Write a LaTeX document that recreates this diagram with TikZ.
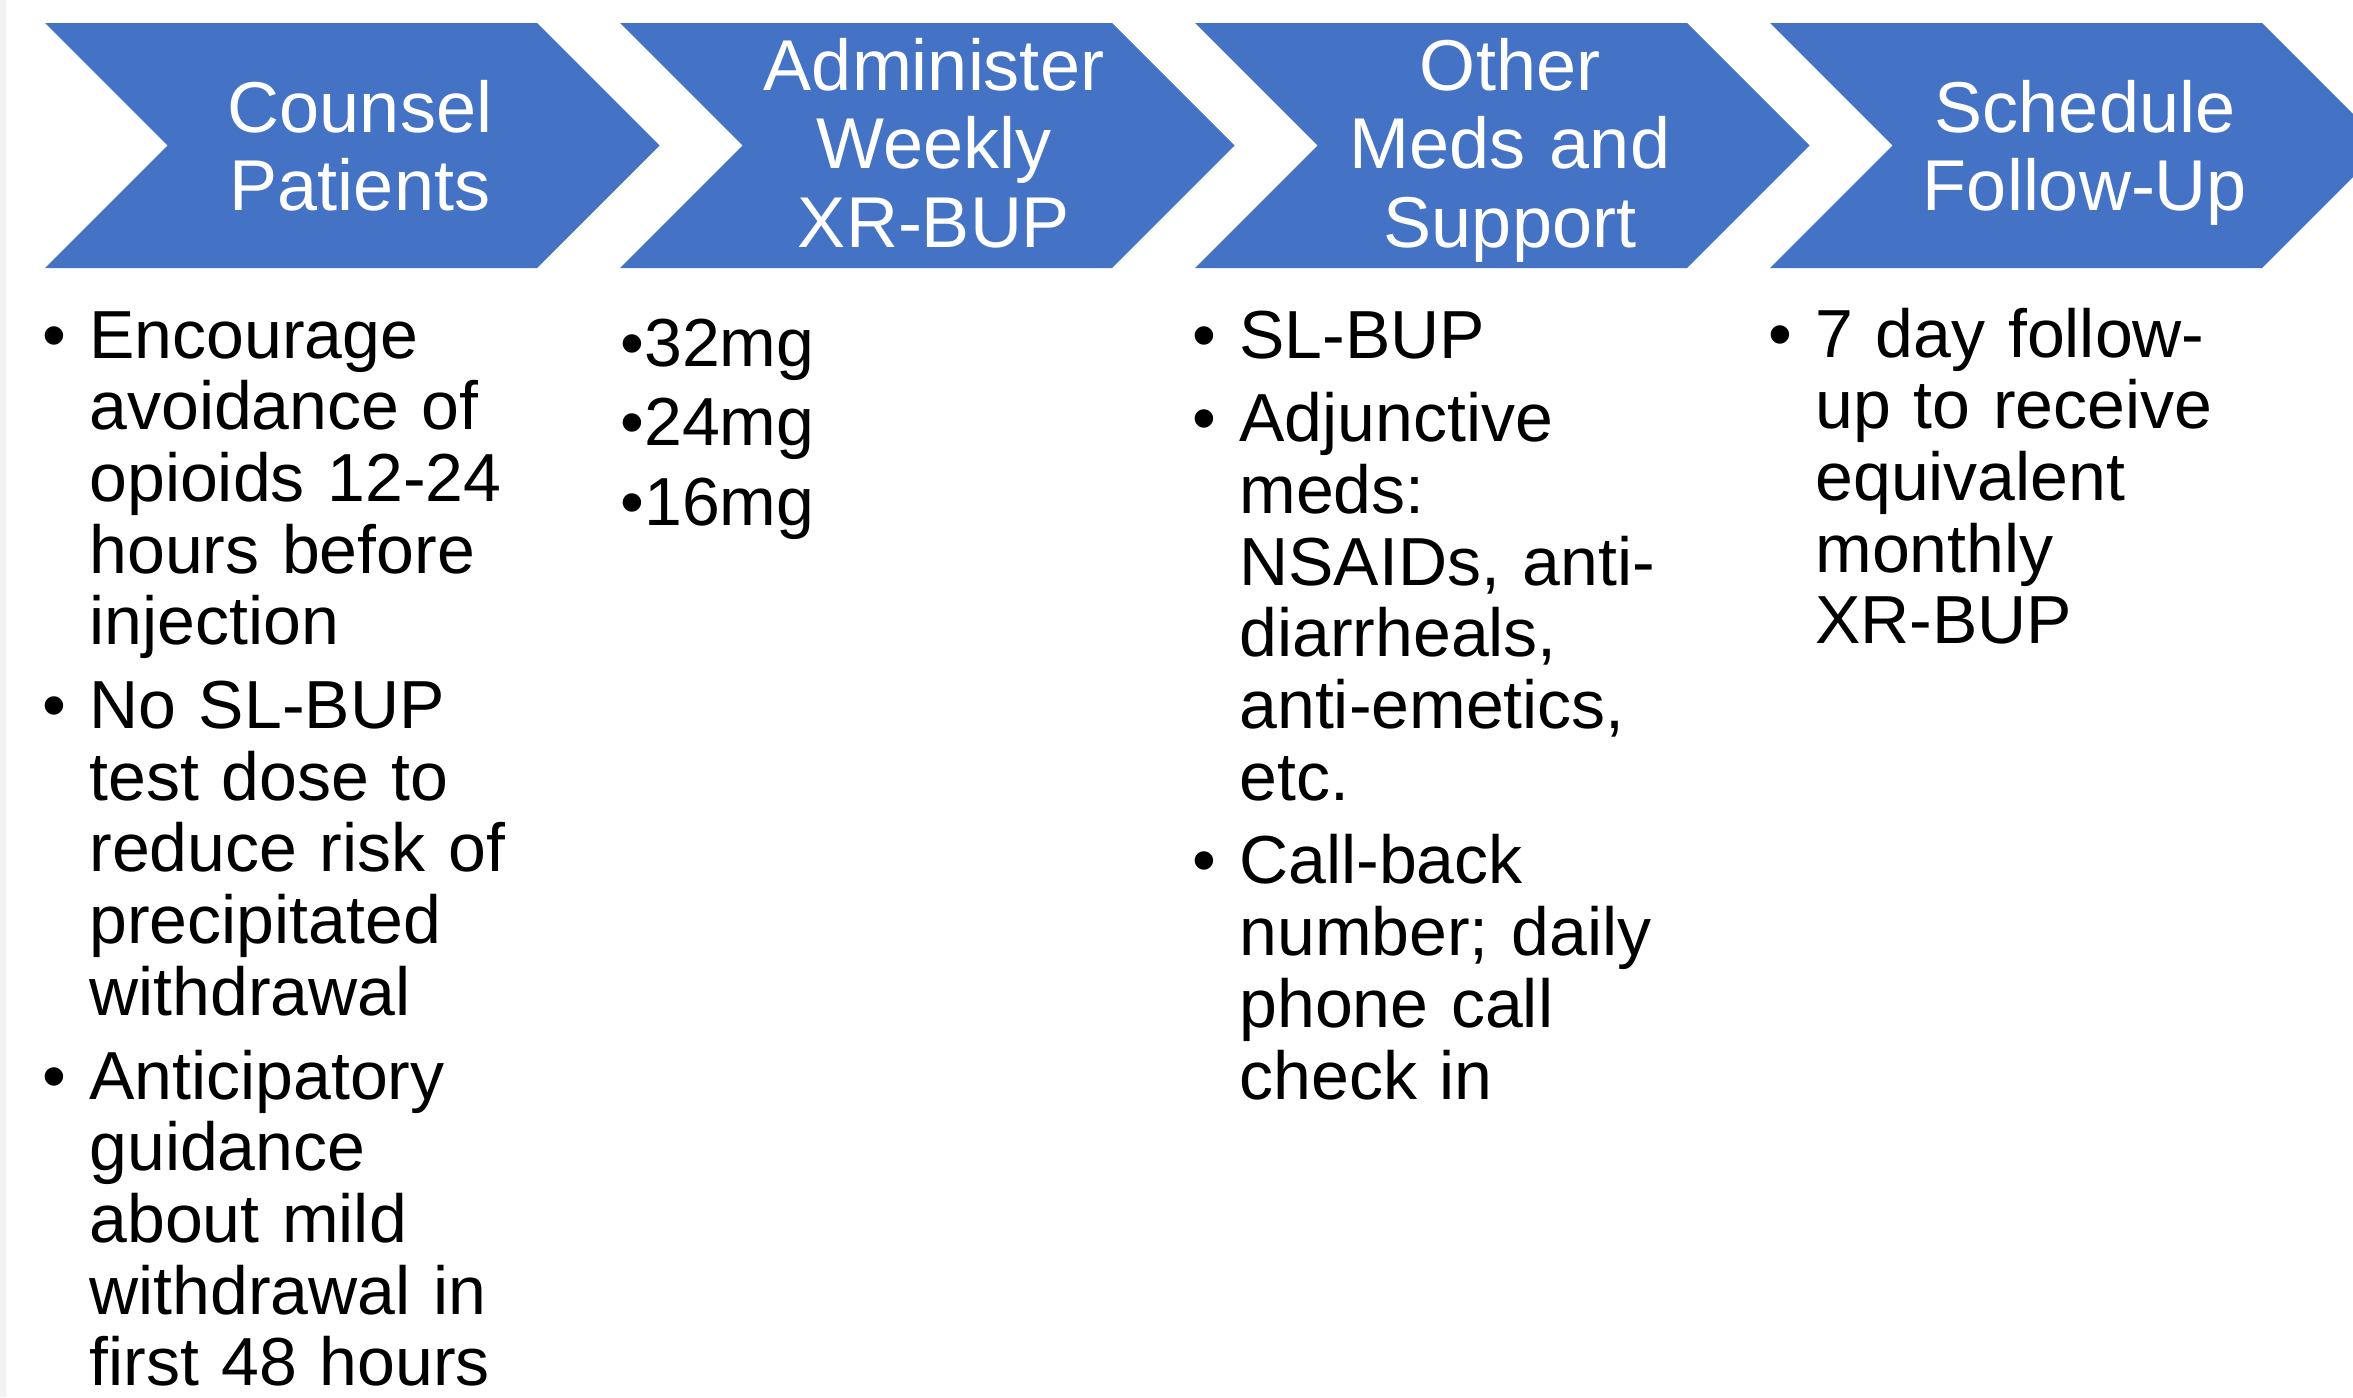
\documentclass[tikz,border=0pt]{standalone}
\usepackage{fontspec}
\setmainfont{Liberation Sans}

\definecolor{chevblue}{HTML}{4472C4}
\definecolor{stripgray}{HTML}{F2F2F2}
\newcommand{\bitem}{\noindent\hangindent=23.5pt\hangafter=1\makebox[23.5pt][l]{\textbullet}}

\begin{document}
\begin{tikzpicture}[x=0.5pt,y=-0.5pt,
chev/.style={fill=chevblue},
title/.style={text=white, font=\fontsize{36pt}{39.25pt}\selectfont, text width=260pt, align=center, inner sep=0pt, anchor=base},
body/.style={font=\fontsize{34pt}{35.85pt}\selectfont, text width=300pt, inner sep=0pt, anchor=base west, execute at begin node={\setlength{\parskip}{6pt}}},
doses/.style={font=\fontsize{34pt}{39.75pt}\selectfont, text width=150pt, inner sep=0pt, anchor=base west}]
\useasboundingbox (0,0) rectangle (2353,1397);
\fill[stripgray] (0,0) rectangle (6,1397);
% chevrons
\fill[chev] (45,23) -- (537,23) -- (659.5,145.5) -- (537,268) -- (45,268) -- (167.5,145.5) -- cycle;
\fill[chev] (620,23) -- (1112,23) -- (1234.5,145.5) -- (1112,268) -- (620,268) -- (742.5,145.5) -- cycle;
\fill[chev] (1195,23) -- (1687,23) -- (1809.5,145.5) -- (1687,268) -- (1195,268) -- (1317.5,145.5) -- cycle;
\fill[chev] (1770,23) -- (2262,23) -- (2384.5,145.5) -- (2262,268) -- (1770,268) -- (1892.5,145.5) -- cycle;
% titles
\node[title] (counsel) at (360,132) {Counsel\\Patients};
\node[title] (administer) at (934,90) {Administer\\Weekly\\XR-BUP};
\node[title] (othermeds) at (1510,90) {Other\\Meds and\\Support};
\node[title] (schedule) at (2085,132) {Schedule\\Follow-Up};
% bullet lists
\node[body] (counselbody) at (42,358) {\bitem Encourage\newline avoidance of\newline opioids 12-24\newline hours before\newline injection\par
\bitem No SL-BUP\newline test dose to\newline reduce risk of\newline precipitated\newline withdrawal\par
\bitem Anticipatory\newline guidance\newline about mild\newline withdrawal in\newline first 48 hours\par};
\node[doses] (dosebody) at (620,366) {\noindent\textbullet 32mg\newline\textbullet 24mg\newline\textbullet 16mg};
\node[body] (medsbody) at (1192,358) {\bitem SL-BUP\par
\bitem Adjunctive\newline meds:\newline NSAIDs, anti-\newline diarrheals,\newline anti-emetics,\newline etc.\par
\bitem Call-back\newline number; daily\newline phone call\newline check in\par};
\node[body] (followbody) at (1768,357) {\bitem 7 day follow-\newline up to receive\newline equivalent\newline monthly\newline XR-BUP\par};
\end{tikzpicture}
\end{document}
